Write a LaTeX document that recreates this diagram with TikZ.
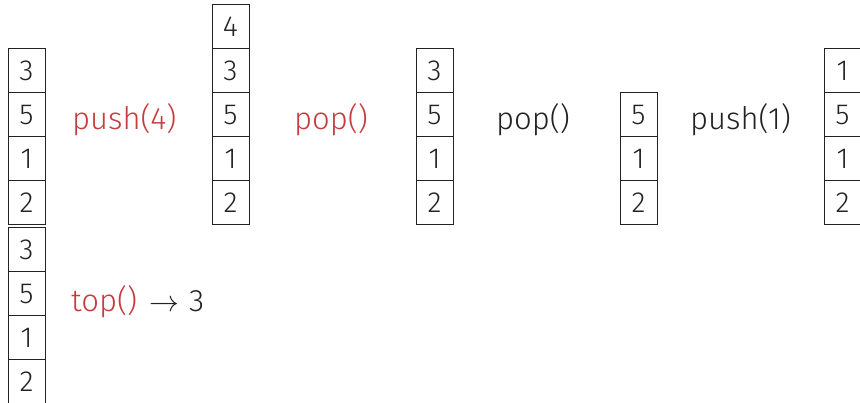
\documentclass[tikz,border=0pt]{standalone}
\usepackage{fontspec}
\setmainfont{Fira Sans Light}
\definecolor{redop}{RGB}{196,60,62}
\definecolor{ink}{RGB}{34,34,34}
\begin{document}
\begin{tikzpicture}[x=1pt,y=-1pt,
  cell/.style={draw=ink, line width=1pt, minimum width=37pt, minimum height=44pt, inner sep=0pt, text=ink, font=\fontsize{29}{32}\selectfont},
  op/.style={inner sep=0pt, anchor=base west, text=ink, font=\fontsize{31}{34}\selectfont},
  opred/.style={op, text=redop}]
\useasboundingbox (0,0) rectangle (860,403);
% stack A
\foreach \v [count=\i] in {3,5,1,2} \node[cell] (a\i) at (26.5, 27+43.8*\i) {\v};
% stack B
\foreach \v [count=\i] in {3,5,1,2} \node[cell] (b\i) at (26.5, 206+44*\i) {\v};
% stack C
\foreach \v [count=\i] in {4,3,5,1,2} \node[cell] (c\i) at (230.5, -16.8+43.8*\i) {\v};
% stack D
\foreach \v [count=\i] in {3,5,1,2} \node[cell] (d\i) at (434.5, 27+43.8*\i) {\v};
% stack E
\foreach \v [count=\i] in {5,1,2} \node[cell] (e\i) at (638.5, 70.8+43.8*\i) {\v};
% stack F
\foreach \v [count=\i] in {1,5,1,2} \node[cell] (f\i) at (842.5, 27+43.8*\i) {\v};
% operations
\node[opred] (op1) at (72,130) {push(4)};
\node[opred] (op2) at (294,130) {pop()};
\node[op] (op3) at (496,130) {pop()};
\node[op] (op4) at (690,130) {push(1)};
\node[op] (op5) at (71,312) {\textcolor{redop}{top()}\hspace{12pt}\scalebox{1.2}{$\rightarrow$}\hspace{10pt}3};
\end{tikzpicture}
\end{document}
